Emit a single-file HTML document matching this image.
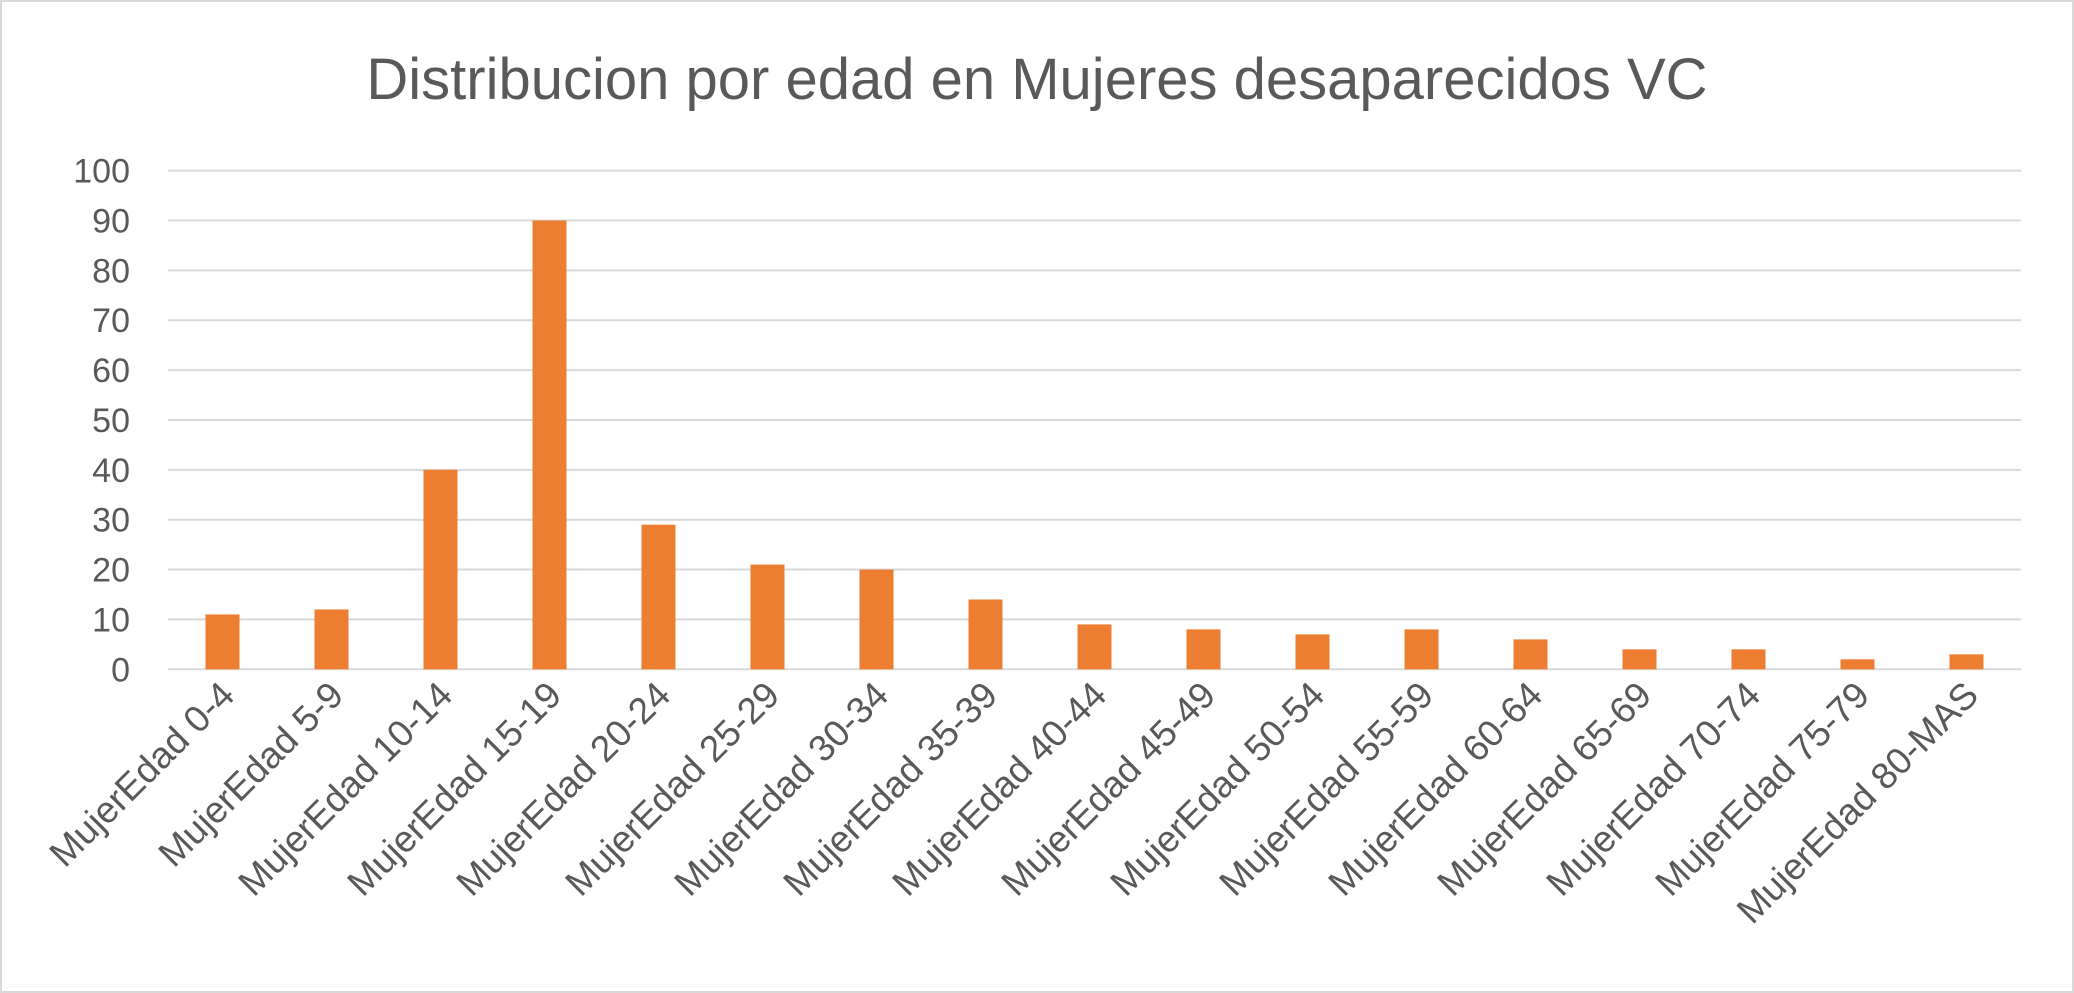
<!DOCTYPE html>
<html><head><meta charset="utf-8"><style>
html,body{margin:0;padding:0;background:#fff}
svg{display:block}
text{font-family:"Liberation Sans",sans-serif;fill:#595959}
</style></head><body>
<svg id="chart" width="2074" height="993">
<rect x="1" y="1" width="2072" height="991" fill="#fff" stroke="#d9d9d9" stroke-width="2"/>
<text x="1037" y="99" font-size="58" text-anchor="middle">Distribucion por edad en Mujeres desaparecidos VC</text>
<g id="grid"></g><g id="bars"></g><g id="labels"></g>
</svg>
<script>
const categories=["MujerEdad 0-4","MujerEdad 5-9","MujerEdad 10-14","MujerEdad 15-19","MujerEdad 20-24","MujerEdad 25-29","MujerEdad 30-34","MujerEdad 35-39","MujerEdad 40-44","MujerEdad 45-49","MujerEdad 50-54","MujerEdad 55-59","MujerEdad 60-64","MujerEdad 65-69","MujerEdad 70-74","MujerEdad 75-79","MujerEdad 80-MAS"];
const values=[11,12,40,90,29,21,20,14,9,8,7,8,6,4,4,2,3];
const yTicks=[0,10,20,30,40,50,60,70,80,90,100];
const NS="http://www.w3.org/2000/svg";
const L=168,R=2021,T=170.6,B=669.3,ymax=100;
const y=v=>B-(v/ymax)*(B-T);
const step=(R-L)/categories.length;
const x=i=>L+step*(i+0.5);
const bw=34;
function mk(t,a,p){const e=document.createElementNS(NS,t);for(const k in a)e.setAttribute(k,a[k]);p.appendChild(e);return e;}
const g=document.getElementById('grid'),bg=document.getElementById('bars'),lg=document.getElementById('labels');
yTicks.forEach(v=>{
 const ln=mk('line',{x1:L,x2:R,y1:y(v),y2:y(v),stroke:'#d9d9d9','stroke-width':2},g);
 
 
 const t=mk('text',{x:L-38,y:y(v)+12,'font-size':34,'text-anchor':'end'},g);
 t.textContent=v;
 
 
});
values.forEach((v,i)=>{
 const r=mk('rect',{x:x(i)-bw/2,y:y(v),width:bw,height:B-y(v),fill:'#ED7D31'},bg);
 
 
});
categories.forEach((c,i)=>{
 const px=x(i)+14,py=B+28;
 const t=mk('text',{x:px,y:py,'font-size':37,'text-anchor':'end',transform:`rotate(-45 ${px} ${py})`},lg);
 t.textContent=c;
 
 
});
</script>
</body></html>
